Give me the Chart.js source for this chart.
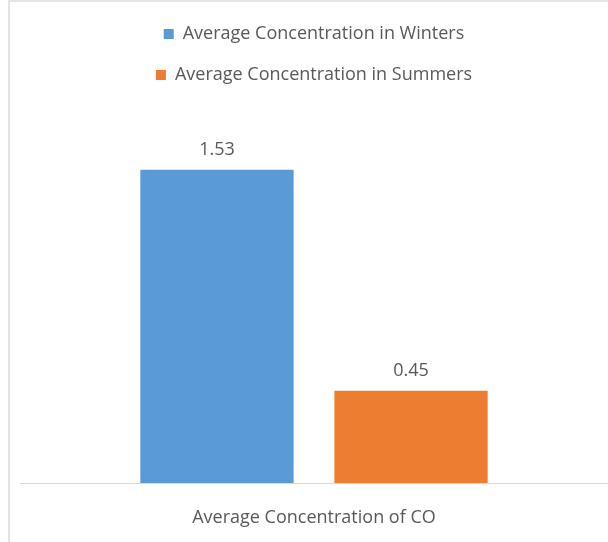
<!DOCTYPE html>
<html>
<head>
<meta charset="utf-8">
<script src="https://cdn.jsdelivr.net/npm/chart.js@4/dist/chart.umd.min.js"></script>
<style>
  html, body { margin: 0; padding: 0; background: #ffffff; }
  #frame {
    position: absolute; left: 8px; top: 0; width: 600px; height: 542px;
    border-left: 2px solid #e3e3e3; border-top: 2px solid #e6e6e6;
    box-sizing: border-box;
  }
  #wrap { position: absolute; left: 0; top: 0; width: 608px; height: 542px; }
</style>
</head>
<body>
<div id="frame"></div>
<div id="wrap"><canvas id="chart" width="608" height="542"></canvas></div>
<script>
// Category and series values
const categories = ['Average Concentration of CO'];
const seriesNames = ['Average Concentration in Winters', 'Average Concentration in Summers'];
const winterValues = [1.53];
const summerValues = [0.45];
const seriesColors = ['#5B9BD5', '#ED7D31'];

const FONT = "'Open Sans', 'Noto Sans', sans-serif";
const TEXT = '#595959';

// Writes each bar's value just above it
const valueLabels = {
  id: 'valueLabels',
  afterDatasetsDraw(chart) {
    const ctx = chart.ctx;
    ctx.save();
    ctx.font = '18px ' + FONT;
    ctx.fillStyle = TEXT;
    ctx.textAlign = 'center';
    ctx.textBaseline = 'middle';
    chart.data.datasets.forEach((ds, di) => {
      chart.getDatasetMeta(di).data.forEach((bar, i) => {
        ctx.fillText(ds.data[i].toFixed(2), bar.x, bar.y - 20);
      });
    });
    ctx.restore();
  }
};

new Chart(document.getElementById('chart'), {
  type: 'bar',
  data: {
    labels: categories,
    datasets: [
      { label: seriesNames[0], data: winterValues, backgroundColor: seriesColors[0] },
      { label: seriesNames[1], data: summerValues, backgroundColor: seriesColors[1] }
    ]
  },
  options: {
    responsive: false,
    animation: false,
    layout: { padding: { top: 2, left: 20, right: 0, bottom: 13 } },
    datasets: { bar: { categoryPercentage: 0.66, barPercentage: 0.79 } },
    plugins: {
      tooltip: { enabled: false },
      legend: {
        position: 'top',
        labels: {
          boxWidth: 10, boxHeight: 10, padding: 23,
          color: TEXT, font: { family: FONT, size: 18 }
        }
      }
    },
    scales: {
      x: {
        grid: { display: false, drawTicks: false },
        border: { display: true, color: '#d9d9d9', width: 1 },
        ticks: { color: TEXT, font: { family: FONT, size: 18 }, padding: 24 },
        afterFit(axis) { axis.height = 46; }
      },
      y: {
        display: false,
        min: 0, max: 1.9
      }
    }
  },
  plugins: [valueLabels]
});
</script>
</body>
</html>
